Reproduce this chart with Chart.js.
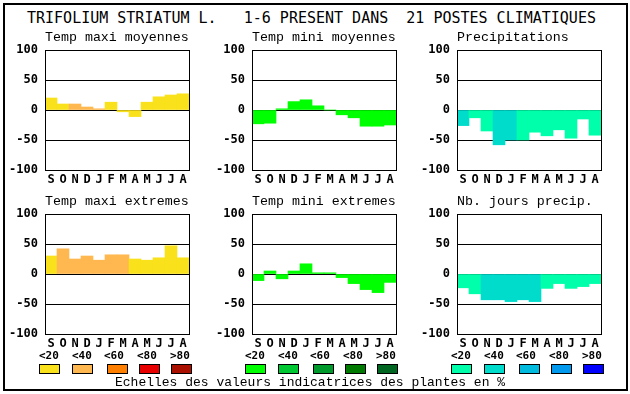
<!DOCTYPE html>
<html>
<head>
<meta charset="utf-8">
<script src="https://cdn.jsdelivr.net/npm/chart.js@4.4.1/dist/chart.umd.min.js"></script>
<style>
  body { margin: 0; background: #fff; }
  #page { position: relative; width: 630px; height: 394px; overflow: hidden; }
  #frame { position: absolute; left: 3px; top: 3px; width: 625px; height: 388px; border: 2px solid #000; box-sizing: border-box; }
  canvas { position: absolute; }
  .txt { position: absolute; white-space: pre; color: #000; }
  .box { position: absolute; width: 21px; height: 10px; border: 1px solid #000; box-sizing: border-box; }
</style>
</head>
<body>
<div id="page">
  <div id="frame"></div>
</div>
<script>
// ---- data ----
const months = ["S", "O", "N", "D", "J", "F", "M", "A", "M", "J", "J", "A"];
const yTicks = [-100, -50, 0, 50, 100];
const classLabels = ["<20", "<40", "<60", "<80", ">80"];

const tempColors = ["#f9e11b", "#ffb84f", "#ff7f00", "#e80000", "#aa1000"];
const greenColors = ["#00ff00", "#00c832", "#009a2c", "#007a00", "#006622"];
const blueColors = ["#00ffaa", "#00dccc", "#00bbdd", "#0099ee", "#0000ff"];

const tmaxMoy = [20, 10, 10, 5, 2, 13, -3, -11, 13, 22, 25, 27];
const tmaxMoyCls = [0, 0, 1, 1, 1, 0, 0, 0, 0, 0, 0, 0];
const tminMoy = [-23, -22, 2, 14, 17, 7, 0, -8, -13, -27, -27, -25];
const tminMoyCls = [0, 0, 0, 0, 0, 0, 0, 0, 0, 0, 0, 0];
const precip = [-26, -13, -35, -58, -50, -50, -37, -43, -33, -47, -15, -42];
const precipCls = [1, 0, 0, 1, 1, 0, 0, 0, 0, 0, 0, 0];

const tmaxExt = [30, 42, 25, 30, 23, 32, 32, 25, 23, 27, 47, 27];
const tmaxExtCls = [0, 1, 1, 1, 1, 1, 1, 0, 0, 0, 0, 0];
const tminExt = [-11, 5, -8, 5, 17, 2, 2, -6, -16, -26, -31, -14];
const tminExtCls = [0, 0, 0, 0, 0, 0, 0, 0, 0, 0, 0, 0];
const nbJours = [-23, -33, -43, -43, -46, -43, -46, -24, -16, -24, -21, -16];
const nbJoursCls = [0, 0, 1, 1, 1, 1, 1, 0, 0, 0, 0, 0];

const page = document.getElementById("page");
const thin = "'Liberation Mono', 'DejaVu Sans Mono', monospace";
const bold = "'DejaVu Sans Mono', monospace";

function addText(str, left, cy, size, font, weight) {
  const d = document.createElement("div");
  d.className = "txt";
  d.textContent = str;
  d.style.left = left + "px";
  d.style.top = (cy - size / 2) + "px";
  d.style.fontSize = size + "px";
  d.style.lineHeight = size + "px";
  d.style.fontFamily = font;
  d.style.fontWeight = weight || "normal";
  page.appendChild(d);
  return d;
}

// black frame round the plot area
const framePlugin = {
  id: "plotFrame",
  afterDraw(chart) {
    const a = chart.chartArea;
    const ctx = chart.ctx;
    ctx.save();
    ctx.strokeStyle = "#000";
    ctx.lineWidth = 1;
    ctx.strokeRect(Math.round(a.left) + 0.5, Math.round(a.top) + 0.5,
      Math.round(a.right - a.left), Math.round(a.bottom - a.top));
    ctx.restore();
  }
};

const PLOT_W = 144, PLOT_H = 120, AXIS_W = 45, AXIS_H = 22, RIGHT = 8;

function panel(title, left, top, values, cls, palette) {
  const c = document.createElement("canvas");
  c.width = AXIS_W + PLOT_W + RIGHT;
  c.height = 160;
  c.style.left = (left - AXIS_W) + "px";
  page.appendChild(c);

  addText(title, left, top - 12, 13.3, thin);

  const ch = new Chart(c, {
    type: "bar",
    data: {
      labels: months,
      datasets: [{
        data: values,
        backgroundColor: cls.map(k => palette[k]),
        borderWidth: 0,
        barPercentage: 1,
        categoryPercentage: 1
      }]
    },
    options: {
      responsive: false,
      maintainAspectRatio: false,
      animation: false,
      devicePixelRatio: 1,
      layout: { padding: { top: 0, right: RIGHT, left: 0, bottom: 0 } },
      plugins: { legend: { display: false }, tooltip: { enabled: false }, title: { display: false } },
      scales: {
        x: {
          z: 1,
          grid: { display: false, drawTicks: false, tickLength: 0 },
          border: { display: false },
          ticks: { color: "#000", font: { family: bold, size: 12, weight: "bold", lineHeight: 1 }, padding: 4, maxRotation: 0, autoSkip: false },
          afterFit(s) { s.height = AXIS_H; }
        },
        y: {
          z: 1,
          min: -100, max: 100,
          afterBuildTicks(s) { s.ticks = yTicks.map(v => ({ value: v })); },
          grid: { color: "#000", lineWidth: 1, drawTicks: false },
          border: { display: false },
          ticks: { color: "#000", font: { family: bold, size: 12, weight: "bold", lineHeight: 1 }, padding: 7 },
          afterFit(s) { s.width = AXIS_W; }
        }
      }
    },
    plugins: [framePlugin]
  });

  // the top tick label adds its own space above the plot: size the canvas so the plot is 120 high
  const t = Math.round(ch.chartArea.top);
  ch.resize(AXIS_W + PLOT_W + RIGHT, t + PLOT_H + AXIS_H);
  c.style.top = (top - Math.round(ch.chartArea.top)) + "px";
}

addText("TRIFOLIUM STRIATUM L.   1-6 PRESENT DANS  21 POSTES CLIMATIQUES", 27, 18, 15, bold);

panel("Temp maxi moyennes", 45, 50, tmaxMoy, tmaxMoyCls, tempColors);
panel("Temp mini moyennes", 252, 50, tminMoy, tminMoyCls, greenColors);
panel("Precipitations", 457, 50, precip, precipCls, blueColors);
panel("Temp maxi extremes", 45, 214, tmaxExt, tmaxExtCls, tempColors);
panel("Temp mini extremes", 252, 214, tminExt, tminExtCls, greenColors);
panel("Nb. jours precip.", 457, 214, nbJours, nbJoursCls, blueColors);

// colour scales
const groups = [[39, tempColors], [245, greenColors], [451, blueColors]];
const labelOff = [0, 33, 65, 98, 131];
const boxOff = [0, 33, 68, 100, 132];
groups.forEach(([base, pal]) => {
  classLabels.forEach((lab, i) => {
    addText(lab, base + labelOff[i], 355, 11, bold, "bold");
    const b = document.createElement("div");
    b.className = "box";
    b.style.left = (base + boxOff[i]) + "px";
    b.style.top = "364px";
    b.style.background = pal[i];
    page.appendChild(b);
  });
});

addText("Echelles des valeurs indicatrices des plantes en %", 115, 382, 13, thin);
</script>
</body>
</html>
